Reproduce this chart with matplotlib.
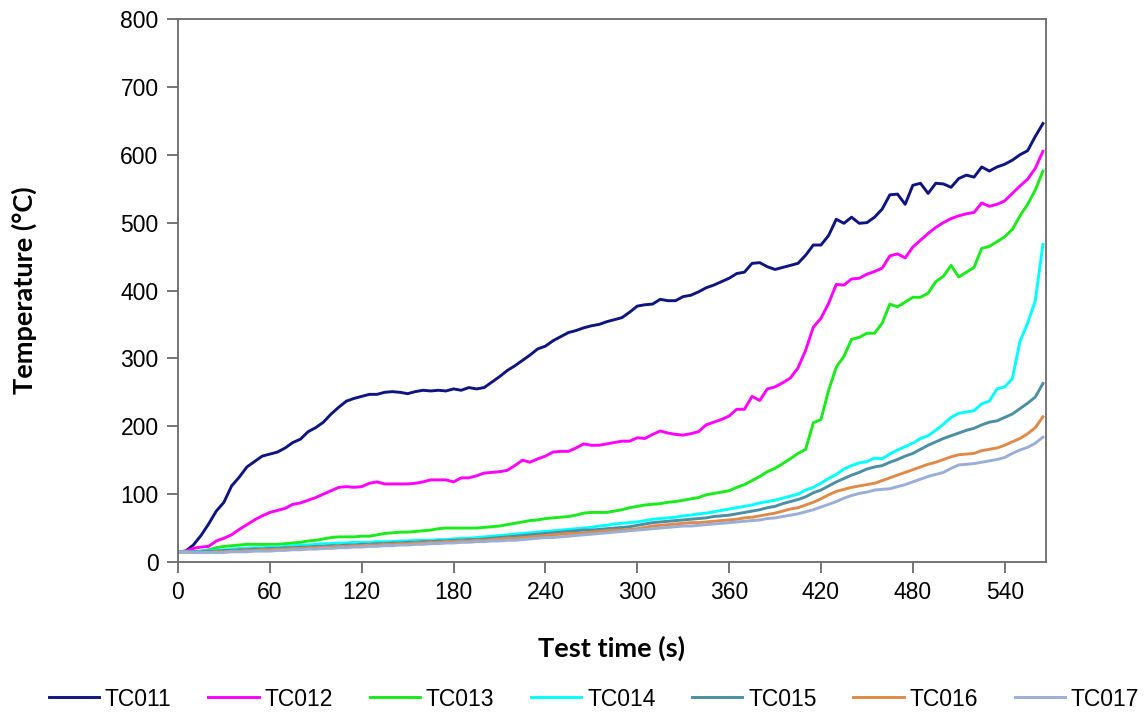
import numpy as np
import matplotlib
matplotlib.use("Agg")
import matplotlib.pyplot as plt

# Sampling times (s), one reading every 5 s
time_s = np.arange(0, 570, 5)

tc011 = [15, 16, 25, 39, 56, 75, 88, 112, 125, 140,
         148, 156, 159, 162, 168, 176, 181, 192, 198, 206,
         218, 228, 237, 241, 244, 247, 247, 250, 251, 250,
         248, 251, 253, 252, 253, 252, 255, 253, 257, 255,
         257, 265, 273, 282, 289, 297, 305, 314, 318, 326,
         332, 338, 341, 345, 348, 350, 354, 357, 360, 368,
         377, 379, 380, 387, 385, 385, 391, 393, 398, 404,
         408, 413, 418, 425, 427, 440, 441, 435, 431, 434,
         437, 440, 452, 467, 467, 481, 505, 499, 508, 499,
         500, 508, 520, 541, 542, 527, 555, 558, 543, 558,
         557, 552, 565, 570, 567, 582, 576, 582, 586, 592,
         600, 606, 627, 646]

tc012 = [15, 16, 20, 22, 23, 31, 35, 40, 48, 55,
         62, 68, 73, 76, 79, 85, 87, 91, 95, 100,
         105, 110, 111, 110, 111, 116, 118, 115, 115, 115,
         115, 116, 118, 121, 121, 121, 118, 124, 124, 127,
         131, 132, 133, 135, 142, 150, 147, 152, 156, 162,
         163, 163, 168, 174, 172, 172, 174, 176, 178, 178,
         183, 182, 188, 193, 190, 188, 187, 189, 192, 202,
         206, 210, 215, 225, 225, 244, 238, 255, 258, 264,
         271, 286, 312, 346, 359, 381, 409, 408, 417, 418,
         424, 428, 433, 451, 454, 448, 464, 474, 484, 493,
         500, 506, 510, 513, 515, 529, 524, 527, 532, 543,
         554, 564, 580, 605]

tc013 = [15, 15, 15, 16, 18, 21, 23, 24, 25, 26,
         26, 26, 26, 26, 27, 28, 29, 31, 32, 34,
         36, 37, 37, 37, 38, 38, 40, 42, 43, 44,
         44, 45, 46, 47, 49, 50, 50, 50, 50, 50,
         51, 52, 53, 55, 57, 59, 61, 62, 64, 65,
         66, 67, 69, 72, 73, 73, 73, 75, 77, 80,
         82, 84, 85, 86, 88, 89, 91, 93, 95, 99,
         101, 103, 105, 110, 114, 120, 126, 133, 138, 145,
         152, 160, 166, 205, 210, 253, 287, 303, 328, 331,
         337, 337, 352, 380, 376, 383, 390, 390, 396, 413,
         421, 437, 420, 427, 434, 462, 465, 472, 479, 490,
         510, 527, 548, 576]

tc014 = [15, 15, 15, 16, 17, 17, 18, 19, 20, 20,
         21, 21, 22, 22, 23, 24, 25, 25, 26, 27,
         27, 28, 28, 29, 29, 29, 30, 30, 30, 31,
         31, 32, 32, 32, 33, 33, 34, 35, 35, 36,
         37, 38, 39, 40, 41, 42, 43, 44, 45, 46,
         47, 48, 49, 50, 51, 53, 54, 56, 57, 58,
         59, 61, 63, 64, 65, 66, 68, 69, 71, 72,
         74, 76, 78, 80, 82, 84, 87, 89, 91, 94,
         97, 100, 106, 110, 116, 123, 129, 137, 142, 146,
         148, 153, 152, 159, 165, 170, 175, 182, 186, 194,
         203, 213, 219, 221, 223, 233, 237, 255, 258, 270,
         325, 352, 385, 468]

tc015 = [15, 15, 15, 15, 16, 16, 17, 17, 18, 18,
         19, 19, 20, 20, 21, 21, 22, 22, 23, 23,
         24, 24, 25, 25, 26, 26, 27, 27, 28, 28,
         29, 29, 30, 30, 31, 31, 32, 32, 33, 33,
         34, 35, 36, 37, 38, 39, 40, 41, 42, 43,
         44, 45, 46, 47, 47, 48, 49, 50, 51, 52,
         54, 56, 58, 59, 60, 61, 62, 63, 64, 65,
         67, 68, 69, 71, 73, 75, 77, 80, 82, 86,
         89, 92, 96, 102, 106, 112, 118, 123, 128, 132,
         137, 140, 142, 147, 151, 156, 160, 166, 172, 177,
         182, 186, 190, 194, 197, 202, 206, 208, 213, 218,
         226, 234, 243, 263]

tc016 = [15, 15, 14, 14, 14, 15, 15, 16, 16, 17,
         17, 18, 18, 19, 19, 20, 20, 21, 21, 22,
         22, 23, 23, 24, 24, 25, 25, 26, 26, 27,
         27, 28, 28, 29, 29, 30, 30, 31, 31, 32,
         32, 33, 34, 35, 35, 36, 37, 38, 39, 40,
         41, 42, 42, 43, 44, 45, 46, 47, 47, 48,
         49, 51, 53, 54, 55, 56, 57, 58, 58, 59,
         60, 61, 62, 63, 65, 66, 68, 70, 72, 75,
         78, 80, 84, 88, 93, 99, 104, 107, 110, 112,
         114, 116, 120, 124, 128, 132, 136, 140, 144, 147,
         151, 155, 158, 159, 160, 164, 166, 168, 172, 177,
         182, 189, 198, 214]

tc017 = [15, 15, 14, 14, 14, 14, 14, 15, 15, 15,
         16, 16, 16, 17, 17, 18, 18, 19, 19, 20,
         20, 21, 21, 22, 22, 23, 23, 24, 24, 25,
         25, 26, 26, 27, 27, 28, 28, 29, 29, 30,
         30, 31, 31, 32, 32, 33, 34, 35, 36, 36,
         37, 38, 39, 40, 41, 42, 43, 44, 45, 46,
         47, 48, 49, 50, 51, 52, 53, 53, 54, 55,
         56, 57, 58, 59, 60, 61, 62, 64, 65, 67,
         69, 71, 74, 77, 81, 85, 89, 94, 98, 101,
         103, 106, 107, 108, 111, 114, 118, 122, 126, 129,
         132, 138, 143, 144, 145, 147, 149, 151, 154, 160,
         165, 169, 175, 184]

series_names = ["TC011", "TC012", "TC013", "TC014", "TC015", "TC016", "TC017"]
series_values = [tc011, tc012, tc013, tc014, tc015, tc016, tc017]
series_colors = ["#0f1580", "#ff00ff", "#1aeb1a", "#00ffff",
                 "#4a8fa3", "#e08a4a", "#9aaed6"]

x_ticks = list(range(0, 541, 60))
y_ticks = list(range(0, 801, 100))

plt.rcParams["font.family"] = ["Liberation Sans", "DejaVu Sans"]

fig = plt.figure(figsize=(11.45, 7.13), dpi=100)
ax = fig.add_axes([178 / 1145, 1 - 562 / 713, 868 / 1145, 543 / 713])

for name, vals, col in zip(series_names, series_values, series_colors):
    ax.plot(time_s, vals, color=col, lw=2.1, label=name, solid_joinstyle="round")

ax.set_xlim(0, 567)
ax.set_ylim(0, 800)
ax.set_xticks(x_ticks)
ax.set_yticks(y_ticks)

spine_col = "#6a6a6a"
for sp in ax.spines.values():
    sp.set_color(spine_col)
    sp.set_linewidth(1.3)
ax.tick_params(axis="both", direction="out", length=8, width=1.3,
               color=spine_col, labelsize=16.5, labelcolor="black")
ax.tick_params(axis="x", pad=6)
ax.tick_params(axis="y", pad=6)

label_font = dict(family=["Lato", "DejaVu Sans"], weight="bold", size=19.5)
ax.set_xlabel("Test time (s)", va="center", **label_font)
ax.xaxis.set_label_coords(0.5, (562 - 648) / 543)
ax.set_ylabel("Temperature (\u00b0C)", va="center", **label_font)
ax.yaxis.set_label_coords((24 - 178) / 868, 0.5)

fig.legend(*ax.get_legend_handles_labels(), loc="center",
           bbox_to_anchor=(594 / 1145, 1 - 699 / 713), ncol=7, frameon=False,
           fontsize=16.5, handlelength=2.2, handletextpad=0.25,
           columnspacing=1.6, borderaxespad=0)

fig.savefig("out.png", dpi=100)
